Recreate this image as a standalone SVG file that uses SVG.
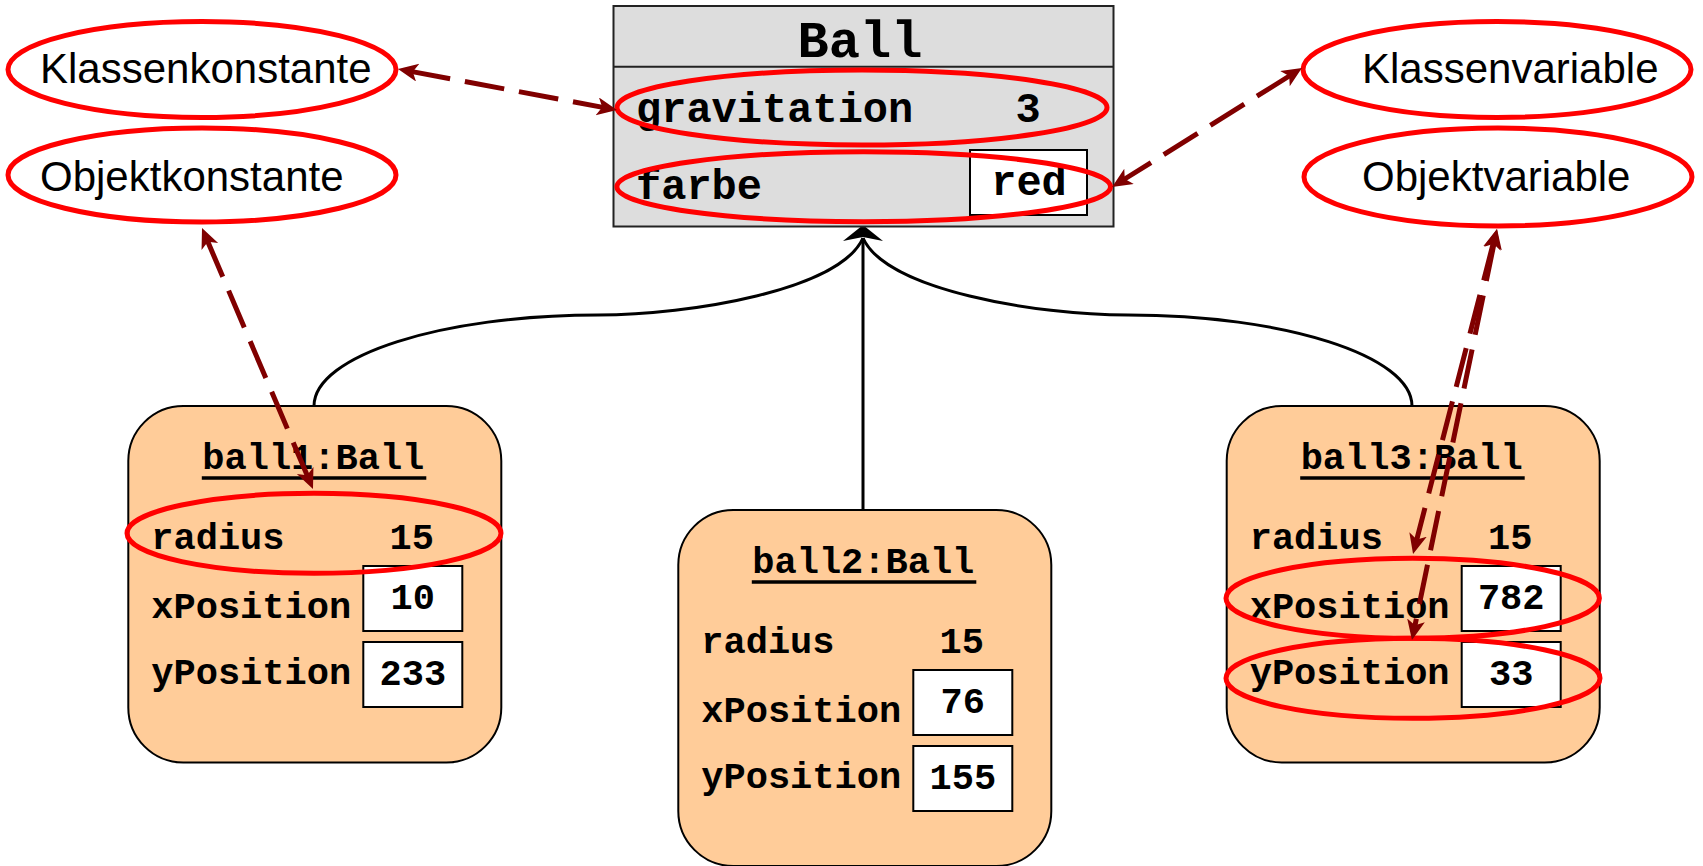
<svg xmlns="http://www.w3.org/2000/svg" width="1703" height="866" viewBox="0 0 1703 866">
<style>
.obj{fill:#ffcc99;stroke:#000;stroke-width:2}
.val{fill:#fff;stroke:#000;stroke-width:2}
.mono{font-family:"Liberation Mono","Courier New",monospace;font-weight:bold;fill:#000}
.o{font-size:37px}
.c{font-size:42px}
.lbl{font-family:"Liberation Sans",Arial,sans-serif;font-size:42px;fill:#000}
.ring{fill:none;stroke:#ff0000;stroke-width:5}
.inh{fill:none;stroke:#000;stroke-width:3}
.dash{fill:none;stroke:#800000;stroke-width:5;stroke-dasharray:40 15;marker-start:url(#ah);marker-end:url(#ah)}
</style>
<defs>
<marker id="ah" markerUnits="userSpaceOnUse" markerWidth="22" markerHeight="20" refX="7" refY="9" orient="auto-start-reverse" viewBox="0 0 22 20">
<path d="M0,0 L20,9 L0,18 L5,9 z" fill="#800000"/>
</marker>
</defs>
<rect width="1703" height="866" fill="#fff"/>

<g id="connectors-inheritance">
<path class="inh" d="M314 406 C314 355.5 442 315 598 315 C690 315 840 290 863 238"/>
<path class="inh" d="M1412 406 C1412 355.5 1284 315 1128 315 C1036 315 886 290 863 238"/>
<path class="inh" d="M863 510 L863 238"/>
<polygon points="863,225 883,241 863,237 843,241" fill="#000"/>
</g>

<g id="Ball">
<rect x="613.5" y="6" width="500" height="220.5" fill="#dddddd" stroke="#222" stroke-width="2"/>
<line x1="613.5" y1="66.7" x2="1113.5" y2="66.7" stroke="#222" stroke-width="2"/>
<text class="mono" x="860" y="57" font-size="52" text-anchor="middle">Ball</text>
<text class="mono c" x="636" y="121.7">gravitation</text>
<text class="mono c" x="1028" y="121.7" text-anchor="middle">3</text>
<rect class="val" x="970" y="150" width="117" height="65"/>
<text class="mono c" x="636" y="199.3">farbe</text>
<text class="mono c" x="1029" y="195" text-anchor="middle">red</text>
</g>

<g id="ball1" transform="translate(128.3,406)">
<rect class="obj" x="0" y="0" width="373" height="356.5" rx="55"/>
<text class="mono o" x="185" y="62.5" text-anchor="middle">ball1:Ball</text>
<line x1="73.5" y1="72" x2="298" y2="72" stroke="#000" stroke-width="3.5"/>
<text class="mono o" x="23" y="143.3">radius</text>
<text class="mono o" x="283.5" y="143.3" text-anchor="middle">15</text>
<text class="mono o" x="23" y="211.7">xPosition</text>
<rect class="val" x="235" y="160" width="99" height="65"/>
<text class="mono o" x="284.5" y="202.5" text-anchor="middle">10</text>
<text class="mono o" x="23" y="278.3">yPosition</text>
<rect class="val" x="235" y="236" width="99" height="65"/>
<text class="mono o" x="284.5" y="278.5" text-anchor="middle">233</text>
</g>

<g id="ball2" transform="translate(678.3,510)">
<rect class="obj" x="0" y="0" width="373" height="356" rx="55"/>
<text class="mono o" x="185" y="62.5" text-anchor="middle">ball2:Ball</text>
<line x1="73.5" y1="72" x2="298" y2="72" stroke="#000" stroke-width="3.5"/>
<text class="mono o" x="23" y="143.3">radius</text>
<text class="mono o" x="283.5" y="143.3" text-anchor="middle">15</text>
<text class="mono o" x="23" y="211.7">xPosition</text>
<rect class="val" x="235" y="160" width="99" height="65"/>
<text class="mono o" x="284.5" y="202.5" text-anchor="middle">76</text>
<text class="mono o" x="23" y="278.3">yPosition</text>
<rect class="val" x="235" y="236" width="99" height="65"/>
<text class="mono o" x="284.5" y="278.5" text-anchor="middle">155</text>
</g>

<g id="ball3" transform="translate(1226.7,406)">
<rect class="obj" x="0" y="0" width="373" height="356.5" rx="55"/>
<text class="mono o" x="185" y="62.5" text-anchor="middle">ball3:Ball</text>
<line x1="73.5" y1="72" x2="298" y2="72" stroke="#000" stroke-width="3.5"/>
<text class="mono o" x="23" y="143.3">radius</text>
<text class="mono o" x="283.5" y="143.3" text-anchor="middle">15</text>
<text class="mono o" x="23" y="211.7">xPosition</text>
<rect class="val" x="235" y="160" width="99" height="65"/>
<text class="mono o" x="284.5" y="202.5" text-anchor="middle">782</text>
<text class="mono o" x="23" y="278.3">yPosition</text>
<rect class="val" x="235" y="236" width="99" height="65"/>
<text class="mono o" x="284.5" y="278.5" text-anchor="middle">33</text>
</g>

<g id="Klassenkonstante">
<ellipse class="ring" cx="202" cy="69.5" rx="194" ry="48"/>
<text class="lbl" x="40" y="82.7">Klassenkonstante</text>
</g>
<g id="Objektkonstante">
<ellipse class="ring" cx="202" cy="175" rx="194" ry="47"/>
<text class="lbl" x="40" y="191">Objektkonstante</text>
</g>
<g id="Klassenvariable">
<ellipse class="ring" cx="1497" cy="69.5" rx="194" ry="48"/>
<text class="lbl" x="1362" y="82.7">Klassenvariable</text>
</g>
<g id="Objektvariable">
<ellipse class="ring" cx="1498" cy="177" rx="194" ry="49"/>
<text class="lbl" x="1362" y="191">Objektvariable</text>
</g>

<g id="highlights">
<ellipse class="ring" cx="862" cy="107.5" rx="245" ry="37.5"/>
<ellipse class="ring" cx="863.7" cy="186.7" rx="246.8" ry="35"/>
<ellipse class="ring" cx="314" cy="533.3" rx="187" ry="40"/>
<ellipse class="ring" cx="1412.7" cy="598.3" rx="186.7" ry="40"/>
<ellipse class="ring" cx="1413" cy="678.3" rx="187" ry="40"/>
</g>

<g id="connectors">
<line class="dash" x1="410.8" y1="71.4" x2="604.2" y2="107.6"/>
<line class="dash" x1="207.1" y1="240" x2="307.9" y2="477"/>
<line class="dash" x1="1290.9" y1="75" x2="1123.1" y2="180"/>
<line class="dash" x1="1493.7" y1="241.6" x2="1416.3" y2="541.4"/>
<line class="dash" x1="1494.4" y1="241.7" x2="1414.6" y2="627.2"/>
</g>
</svg>
